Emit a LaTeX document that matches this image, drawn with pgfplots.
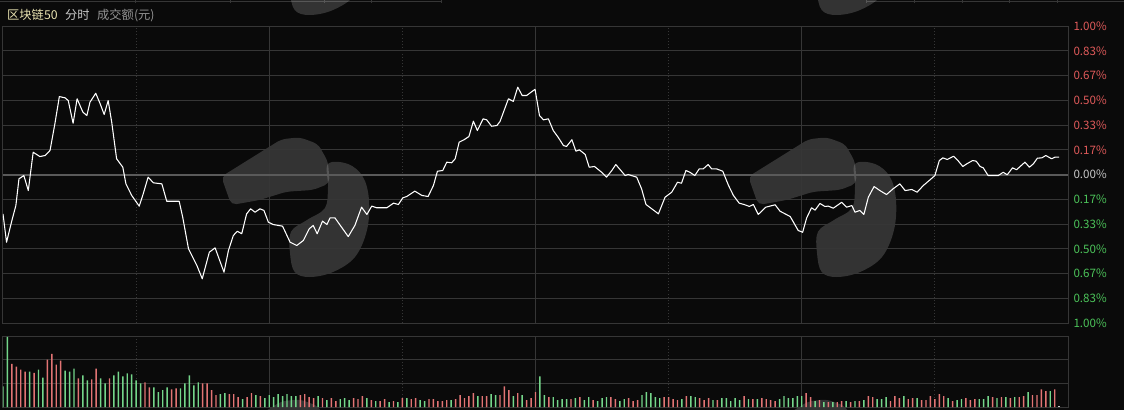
\documentclass[border=0pt]{standalone}
\usepackage{pgfplots}
\pgfplotsset{compat=1.18}
\usepackage{fontspec}
\setmainfont{Noto Sans CJK SC}

\definecolor{bg}{HTML}{0A0A0A}
\definecolor{gridc}{HTML}{363636}
\definecolor{zeroc}{HTML}{5A5A5A}
\definecolor{upc}{HTML}{E05A5A}
\definecolor{dnc}{HTML}{4CC45A}
\definecolor{zlab}{HTML}{C8C8C8}
\definecolor{barup}{HTML}{E27474}
\definecolor{bardn}{HTML}{74D68A}
\definecolor{titley}{HTML}{E8E2B0}

% watermark, drawn in screen pixels (y down), shifted by (#1,#2) pixels
\newcommand\wm[2]{%
  \begin{scope}[shift={(#1*0.75pt,-#2*0.75pt)}, x=0.75pt, y=-0.75pt]
    \fill[white, fill opacity=0.17, rounded corners=4pt]
      (748.3,176.7) -- (808.3,139.3) -- (826.7,137.3) -- (845,144) -- (855,161.7)
      -- (856.7,183.3) -- (840,190) -- (813.3,191.7) -- (786.7,200) -- (758.3,205) -- cycle;
    \fill[white, fill opacity=0.17]
      plot[smooth cycle, tension=0.6] coordinates {
        (855,164) (875,164) (890,177) (896,200) (894,230) (882,257)
        (860,272) (836.7,277) (821.7,272) (817,253) (818,231.7)
        (834,220) (852,208) (855,186.7)};
  \end{scope}}

\pgfplotsset{panel/.style={
  scale only axis, width=798.75pt,
  xmin=0, xmax=240,
  axis line style={gridc, line width=0.75pt},
  xtick={60,120,180}, minor xtick={30,90,150,210}, xticklabels={},
  xmajorgrids, xminorgrids, ymajorgrids,
  major grid style={gridc, line width=0.75pt},
  minor grid style={gridc, dotted, line width=0.75pt},
  tick style={draw=none},
}}

\begin{document}
\begin{tikzpicture}
\path[use as bounding box, fill=bg] (0,0) rectangle (843pt,-307.5pt);

% top tab strip
\draw[gridc, line width=0.75pt] (0,-1.2pt) -- (330.75pt,-1.2pt);
\draw[gridc, line width=0.75pt] (649.5pt,-1.2pt) -- (843pt,-1.2pt);
\foreach \t in {135,230,324,371,441,866,914,962,1009,1057}
  \draw[gridc, line width=0.75pt] (\t*0.75pt,0) -- (\t*0.75pt,-2.4pt);

\begin{scope}
  \clip (0,0) rectangle (843pt,-307.5pt);
  \wm{0}{0}
  \wm{-527}{0}
  \wm{0}{-262}
  \wm{-527}{-262}
  \wm{0}{262}
  \wm{-527}{262}
\end{scope}

% title
\node[anchor=west, inner sep=0, font=\fontsize{9.2pt}{11pt}\selectfont, text=titley]
  at (5.2pt,-11.25pt) {区块链50};
\node[anchor=west, inner sep=0, font=\fontsize{9.2pt}{11pt}\selectfont, text=zlab]
  at (48.7pt,-11.25pt) {分时};
\node[anchor=west, inner sep=0, font=\fontsize{9.2pt}{11pt}\selectfont, text=gray!85]
  at (72.7pt,-11.25pt) {成交额(元)};

% price panel
\begin{axis}[panel,
  at={(2.25pt,-242.25pt)}, anchor=south west,
  height=222.75pt,
  ymin=-1, ymax=1,
  ytick={-1,-0.83333,-0.66667,-0.5,-0.33333,-0.16667,0,0.16667,0.33333,0.5,0.66667,0.83333,1},
  yticklabel pos=right,
  yticklabels={\textcolor{dnc}{1.00\%},\textcolor{dnc}{0.83\%},\textcolor{dnc}{0.67\%},
    \textcolor{dnc}{0.50\%},\textcolor{dnc}{0.33\%},\textcolor{dnc}{0.17\%},
    \textcolor{zlab}{0.00\%},
    \textcolor{upc}{0.17\%},\textcolor{upc}{0.33\%},\textcolor{upc}{0.50\%},
    \textcolor{upc}{0.67\%},\textcolor{upc}{0.83\%},\textcolor{upc}{1.00\%}},
  yticklabel style={font=\fontsize{8.7pt}{10pt}\selectfont, anchor=west, xshift=0.6pt},
  extra y ticks={0}, extra y tick labels={},
  extra y tick style={major grid style={zeroc, line width=1.5pt}},
]
\addplot[white, line width=0.8pt, line join=round] table {
m pct
0 -0.265
0.8 -0.456
2.0 -0.310
2.9 -0.209
3.6 -0.029
4.7 -0.007
5.7 -0.108
6.8 0.150
8.3 0.121
9.5 0.128
10.6 0.162
11.7 0.343
12.7 0.525
14.0 0.516
14.7 0.498
15.8 0.345
16.7 0.510
18.0 0.420
18.9 0.397
19.6 0.487
20.9 0.547
21.9 0.476
22.8 0.404
23.7 0.498
24.5 0.352
25.6 0.106
27.0 0.049
27.7 -0.063
29.0 -0.141
30.7 -0.213
31.6 -0.130
32.7 -0.018
33.9 -0.056
35.8 -0.063
36.9 -0.180
39.7 -0.180
40.5 -0.288
41.8 -0.500
43.7 -0.613
44.9 -0.702
46.5 -0.523
47.8 -0.494
49.8 -0.658
50.8 -0.512
51.9 -0.411
52.8 -0.382
53.8 -0.399
54.9 -0.265
55.8 -0.231
56.8 -0.254
57.9 -0.231
58.8 -0.242
59.8 -0.321
60.9 -0.337
63.0 -0.348
64.7 -0.456
66.2 -0.478
67.7 -0.444
69.0 -0.366
69.9 -0.343
70.8 -0.399
72.0 -0.314
73.0 -0.337
73.7 -0.292
74.8 -0.292
76.3 -0.355
77.8 -0.418
79.3 -0.343
80.8 -0.220
82.0 -0.269
83.1 -0.213
84.2 -0.224
86.5 -0.224
88.0 -0.193
89.1 -0.202
90.1 -0.157
91.0 -0.148
92.8 -0.112
94.4 -0.141
95.8 -0.148
97.0 -0.074
97.9 0.022
99.1 0.027
100.0 0.083
101.1 0.079
101.9 0.106
102.8 0.218
103.9 0.234
105.0 0.256
106.0 0.359
106.9 0.296
108.2 0.375
109.0 0.368
110.1 0.325
111.3 0.330
112.0 0.357
113.9 0.510
115.0 0.492
116.0 0.588
117.0 0.532
118.0 0.532
119.9 0.574
120.9 0.397
121.8 0.368
122.9 0.375
124.0 0.296
125.1 0.251
126.3 0.195
127.0 0.189
128.2 0.234
129.1 0.157
129.9 0.166
131.2 0.135
132.1 0.049
133.3 0.054
134.9 0.015
136.0 -0.018
137.2 0.027
138.1 0.067
140.2 -0.007
140.9 0.000
142.8 -0.018
143.9 -0.096
144.9 -0.202
146.2 -0.231
147.7 -0.265
149.2 -0.153
150.7 -0.119
152.0 -0.052
152.9 -0.059
153.9 0.027
154.8 0.015
155.9 -0.007
156.9 0.038
157.8 0.038
158.9 0.067
159.7 0.038
160.8 0.038
162.2 0.022
163.5 -0.074
164.6 -0.141
165.9 -0.193
167.0 -0.202
168.2 -0.215
169.1 -0.202
170.2 -0.269
171.9 -0.220
174.0 -0.204
175.1 -0.247
177.4 -0.283
179.2 -0.377
180.2 -0.389
181.1 -0.293
182.2 -0.224
183.0 -0.240
184.1 -0.195
185.2 -0.215
186.0 -0.213
187.1 -0.227
189.0 -0.187
190.1 -0.220
191.3 -0.209
192.0 -0.254
193.1 -0.242
194.0 -0.269
195.0 -0.153
196.3 -0.081
197.6 -0.108
199.1 -0.135
200.6 -0.096
202.1 -0.063
203.3 -0.108
204.8 -0.101
206.0 -0.119
207.4 -0.074
208.9 -0.036
210.0 -0.007
211.0 0.094
211.8 0.112
212.8 0.101
214.2 0.123
215.3 0.090
216.3 0.054
217.2 0.072
218.5 0.094
219.3 0.090
220.2 0.054
220.9 0.045
222.0 -0.007
223.6 -0.007
224.3 -0.007
225.4 0.015
226.3 -0.002
227.5 0.045
228.4 0.032
230.3 0.083
231.3 0.049
232.2 0.072
233.1 0.110
234.1 0.112
235.0 0.128
236.3 0.106
237.1 0.117
238.0 0.117
};
\end{axis}

% volume panel
\begin{axis}[panel,
  at={(2.25pt,-305.25pt)}, anchor=south west,
  height=53.25pt,
  ymin=0, ymax=72,
  ytick={24,48}, yticklabels={},
]
\addplot[ybar, bar width=1.05pt, bar shift=0pt, draw=none, fill=barup] table {
i v
2 43.7
3 41
4 38
5 36
7 34.7
10 48
11 54
12 43
13 47
17 29
20 28
21 39
24 29
32 25
33 20
38 18
39 19
45 24
46 24
47 17
48 12
51 13
52 13
53 10
55 10
56 14
58 11
67 12
68 13
69 10
70 9
72 9
74 9
75 6
79 9
80 8
81 11
83 7
85 6
86 8
88 6
90 9
92 8
93 9
96 8
97 8
98 6
99 6
100 7
102 8
103 12
104 9
105 11
106 14
108 11
109 11
112 12
113 21
114 17
116 14
118 7
119 9
120 15
123 10
128 8
130 10
133 7
137 10
138 8
141 9
142 6
143 7
149 10
150 10
151 8
152 7
154 11
157 9
158 7
159 9
161 7
167 11
169 8
171 9
172 8
173 7
174 6
181 14
182 10
184 7
186 5
188 5
189 6
191 5
193 6
195 11
196 10
200 6
201 11
202 9
204 8
205 9
207 7
208 7
209 11
210 8
211 13
212 11
214 6
217 9
218 7
219 8
223 10
225 10
227 9
229 10
230 11
232 12
233 12
234 18
235 16
237 18
};
\addplot[ybar, bar width=1.05pt, bar shift=0pt, draw=none, fill=bardn] table {
i v
0 21
1 71
6 36
8 38
9 29.7
14 37
15 36
16 39
18 32
19 27
22 29
23 24
25 32
26 36
27 31
28 34
29 33
30 27
31 24
34 20
35 15
36 17
37 20
40 19
41 24
42 32
43 22
44 25
49 13
50 14
54 8
57 12
59 9
60 12
61 10
62 13
63 11
64 13
65 11
66 11
71 11
73 7
76 8
77 9
78 7
82 9
84 6
87 5
89 5
91 9
94 7
95 6
101 7
107 11
110 13
111 12
115 11
117 12
121 31
122 12
124 10
125 7
126 8
127 8
129 9
131 7
132 10
134 6
135 9
136 10
139 6
140 8
144 12
145 15
146 14
147 10
148 9
153 8
155 11
156 10
160 7
162 9
163 9
164 6
165 9
166 7
168 8
170 8
175 8
176 11
177 9
178 9
179 11
180 11
183 6
185 5
187 5
190 6
192 6
194 7
197 8
198 8
199 10
203 11
206 9
213 9
215 7
216 8
220 8
221 8
222 11
224 9
226 10
228 10
231 15
236 16
};
\addplot[ybar, bar width=1.05pt, bar shift=0pt, draw=none, fill=zlab] table {
i v
238 1
};
\end{axis}
\end{tikzpicture}
\end{document}
